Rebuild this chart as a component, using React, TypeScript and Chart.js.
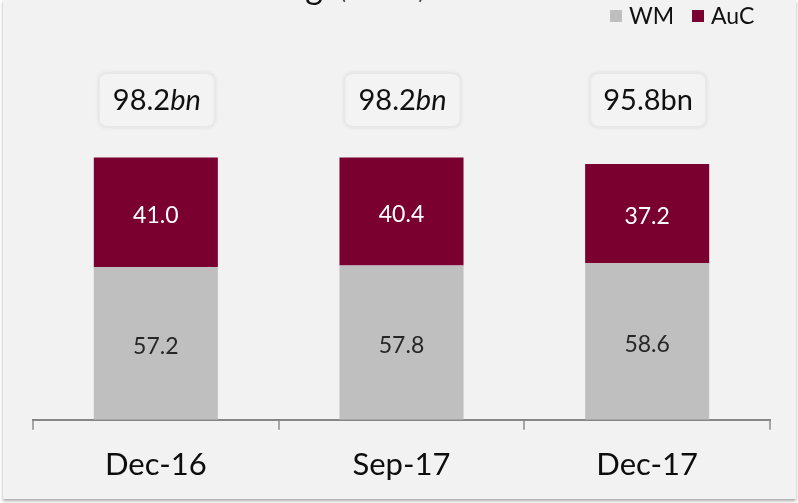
import React, { useEffect, useRef } from "react";
import { Chart, registerables } from "chart.js";

Chart.register(...registerables);

const categories = ["Dec-16", "Sep-17", "Dec-17"];
const wmValues = [57.2, 57.8, 58.6];
const aucValues = [41.0, 40.4, 37.2];
const totalLabels = ["98.2", "98.2", "95.8"];
const totalItalicUnit = [true, true, false];
const seriesNames = ["WM", "AuC"];
const seriesColors = ["#bfbfbf", "#7a0030"];
const valueTextColors = ["#262626", "#ffffff"];

const FONT = "Lato, 'Open Sans', sans-serif";

function roundRect(ctx: CanvasRenderingContext2D, x: number, y: number, w: number, h: number, r: number) {
  ctx.beginPath();
  ctx.moveTo(x + r, y);
  ctx.lineTo(x + w - r, y);
  ctx.quadraticCurveTo(x + w, y, x + w, y + r);
  ctx.lineTo(x + w, y + h - r);
  ctx.quadraticCurveTo(x + w, y + h, x + w - r, y + h);
  ctx.lineTo(x + r, y + h);
  ctx.quadraticCurveTo(x, y + h, x, y + h - r);
  ctx.lineTo(x, y + r);
  ctx.quadraticCurveTo(x, y, x + r, y);
  ctx.closePath();
}

const overlayPlugin = {
  id: "overlay",
  afterDatasetsDraw(chart: any) {
    const ctx: CanvasRenderingContext2D = chart.ctx;
    ctx.save();
    // values inside segments
    ctx.textAlign = "center";
    ctx.textBaseline = "middle";
    ctx.font = `23px ${FONT}`;
    chart.data.datasets.forEach((ds: any, di: number) => {
      const meta = chart.getDatasetMeta(di);
      meta.data.forEach((el: any, i: number) => {
        const p = el.getProps(["x", "y", "base"], true);
        ctx.fillStyle = valueTextColors[di];
        ctx.fillText(Number(ds.data[i]).toFixed(1), p.x, (p.y + p.base) / 2 + 3);
      });
    });

    // total boxes
    const meta0 = chart.getDatasetMeta(0);
    meta0.data.forEach((el: any, i: number) => {
      const cx = el.getProps(["x"], true).x + 1;
      const cy = 100;
      const w = 116;
      const h = 54;
      ctx.save();
      ctx.shadowColor = "rgba(0,0,0,0.12)";
      ctx.shadowBlur = 4;
      roundRect(ctx, cx - w / 2, cy - h / 2, w, h, 9);
      ctx.fillStyle = "#f3f3f3";
      ctx.fill();
      ctx.restore();
      roundRect(ctx, cx - w / 2, cy - h / 2, w, h, 9);
      ctx.strokeStyle = "#e8e8e8";
      ctx.lineWidth = 2;
      ctx.stroke();

      const num = totalLabels[i];
      const unit = "bn";
      const numFont = `29px ${FONT}`;
      const unitFont = totalItalicUnit[i] ? `italic 29px ${FONT}` : `29px ${FONT}`;
      ctx.font = numFont;
      const w1 = ctx.measureText(num).width;
      ctx.font = unitFont;
      const w2 = ctx.measureText(unit).width;
      const start = cx - (w1 + w2) / 2;
      ctx.textAlign = "left";
      ctx.textBaseline = "middle";
      ctx.fillStyle = "#111111";
      ctx.font = numFont;
      ctx.fillText(num, start, cy + 1);
      ctx.font = unitFont;
      ctx.fillText(unit, start + w1, cy + 1);
    });
    ctx.restore();
  },
  afterDraw(chart: any) {
    const ctx: CanvasRenderingContext2D = chart.ctx;
    ctx.save();
    // partially visible title
    ctx.textBaseline = "alphabetic";
    ctx.fillStyle = "#111111";
    ctx.font = `34px ${FONT}`;
    ctx.textAlign = "right";
    ctx.fillText("Private Banking", 323, -1);
    ctx.textAlign = "left";
    ctx.fillStyle = "#404040";
    ctx.font = `22px ${FONT}`;
    ctx.fillText("(EUR bn)", 340, -1);

    // legend
    ctx.font = `23px ${FONT}`;
    ctx.textBaseline = "middle";
    const legendX = [610, 692];
    chart.data.datasets.forEach((ds: any, di: number) => {
      ctx.fillStyle = ds.backgroundColor;
      ctx.fillRect(legendX[di], 10, 12, 12);
      ctx.fillStyle = "#111111";
      ctx.fillText(ds.label, legendX[di] + 19, 17);
    });
    ctx.restore();
  },
};

export default function App() {
  const ref = useRef<HTMLCanvasElement | null>(null);

  useEffect(() => {
    if (!ref.current) return;
    const chart = new Chart(ref.current, {
      type: "bar",
      data: {
        labels: categories,
        datasets: [
          {
            label: seriesNames[0],
            data: wmValues,
            backgroundColor: seriesColors[0],
            categoryPercentage: 1,
            barPercentage: 0.505,
          },
          {
            label: seriesNames[1],
            data: aucValues,
            backgroundColor: seriesColors[1],
            categoryPercentage: 1,
            barPercentage: 0.505,
          },
        ],
      },
      options: {
        responsive: false,
        animation: false,
        layout: { padding: { left: 33, right: 28, top: 46, bottom: 2 } },
        plugins: {
          legend: { display: false },
          title: { display: false },
          tooltip: { enabled: false },
        },
        scales: {
          x: {
            stacked: true,
            grid: {
              display: true,
              drawOnChartArea: false,
              offset: true,
              tickLength: 10,
              color: "#a6a6a6",
              lineWidth: 2,
            },
            border: { display: true, color: "#878787", width: 2 },
            ticks: {
              font: { family: FONT, size: 31 },
              color: "#0d0d0d",
              padding: 17,
            },
          },
          y: {
            stacked: true,
            display: false,
            min: 0,
            max: 140,
          },
        },
      },
      plugins: [overlayPlugin],
    });
    return () => chart.destroy();
  }, []);

  return (
    <div style={{ position: "absolute", left: 0, top: 0, width: 798, height: 503, background: "#ffffff", overflow: "hidden" }}>
      <div
        style={{
          position: "absolute",
          left: 3,
          top: 0,
          width: 793,
          height: 499,
          background: "#f2f2f2",
          boxShadow: "0 2px 3px rgba(0,0,0,0.35)",
        }}
      />
      <canvas ref={ref} width={798} height={503} style={{ position: "absolute", left: 0, top: 0, width: 798, height: 503 }} />
    </div>
  );
}
